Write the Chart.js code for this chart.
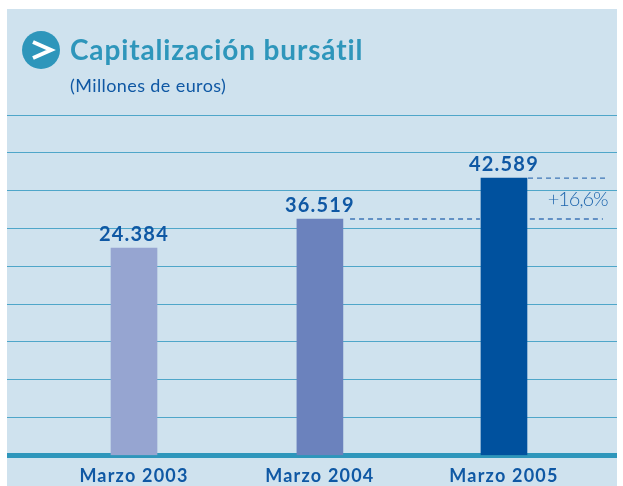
<!DOCTYPE html>
<html><head><meta charset="utf-8">
<style>
html,body{margin:0;padding:0;background:#fff;width:623px;height:486px;overflow:hidden}
#panel{position:absolute;left:7px;top:9px;width:610px;height:477px;background:#cfe2ee}
#wrap{position:absolute;left:0;top:0;width:623px;height:498px;clip-path:inset(0 6px 0 7px)}
#badge{position:absolute;left:22px;top:31px;width:38px;height:38px;border-radius:50%;background:#2e96bb;color:#fff}
#badge svg{position:absolute;left:0;top:0}
#title{position:absolute;left:70px;top:32px;font:bold 28px Lato,sans-serif;color:#2e96bb;letter-spacing:.85px;white-space:nowrap}
#sub{position:absolute;left:70px;top:74px;font:18px Lato,sans-serif;color:#0f58a4;letter-spacing:.4px;white-space:nowrap}
</style>
<script src="https://cdn.jsdelivr.net/npm/chart.js@4"></script>
</head><body>
<div id="panel"></div>
<div id="wrap"><canvas id="c" width="623" height="498"></canvas></div>
<div id="badge"><svg width="38" height="38"><path d="M11 11 L29 19 L11 27" fill="none" stroke="#fff" stroke-width="4"/></svg></div>
<div id="title">Capitalización bursátil</div>
<div id="sub">(Millones de euros)</div>
<script>
const categories = ["Marzo 2003", "Marzo 2004", "Marzo 2005"];
const valueLabels = ["24.384", "36.519", "42.589"];
// Bar heights as printed in the source, in gridline steps (source bars are not to scale with their labels)
const barLevels = [5.48, 6.25, 7.33];
const barColors = ["#96a5d1", "#6b82bd", "#00519e"];
const positions = [0, 1.005, 2];
const dashLower = [[1.168, 6.25], [1.87, 6.25]];
const dashLowerRight = [[2.14, 6.25], [2.535, 6.25]];
const dashUpper = [[2.13, 7.33], [2.56, 7.33]];
const changeLabel = "+16,6%";

const textPlugin = {
  id: "texts",
  beforeDraw(chart) { chart.ctx.letterSpacing = "1.2px"; },
  afterDatasetsDraw(chart) {
    const {ctx, scales: {x, y}} = chart;
    ctx.save();
    ctx.textAlign = "center";
    ctx.textBaseline = "alphabetic";
    ctx.fillStyle = "#0f58a4";
    ctx.font = "bold 20px Lato, sans-serif";
    ctx.letterSpacing = "1.2px";
    positions.forEach((p, i) => {
      ctx.fillText(valueLabels[i], x.getPixelForValue(p), y.getPixelForValue(barLevels[i]) - 7);
    });
    ctx.font = "300 20px Lato, sans-serif";
    ctx.letterSpacing = "-1.1px";
    ctx.fillStyle = "#1f66ad";
    ctx.textAlign = "right";
    ctx.fillText(changeLabel, x.getPixelForValue(2.56), y.getPixelForValue(6.6));
    ctx.restore();
  }
};

const dashStyle = {type: "line", pointRadius: 0, borderWidth: 1.4, borderColor: "#3f76b6", borderDash: [5, 4], fill: false, parsing: false};
const toPts = a => a.map(([x, y]) => ({x, y}));

new Chart(document.getElementById("c"), {
  type: "bar",
  data: {
    datasets: [
      {type: "bar", data: positions.map((p, i) => ({x: p, y: barLevels[i]})), backgroundColor: barColors, barThickness: 46, order: 2},
      {...dashStyle, data: toPts(dashLower), order: 1},
      {...dashStyle, data: toPts(dashLowerRight), order: 1},
      {...dashStyle, data: toPts(dashUpper), order: 1}
    ]
  },
  options: {
    responsive: false,
    animation: false,
    layout: {padding: {left: 7, right: 6, top: 115, bottom: 1}},
    plugins: {legend: {display: false}, tooltip: {enabled: false}, title: {display: false}},
    scales: {
      x: {
        type: "linear",
        offset: false,
        min: -0.6865,
        max: 2.611,
        afterBuildTicks(ax) { ax.ticks = positions.map(v => ({value: v})); },
        ticks: {
          autoSkip: false, maxRotation: 0, padding: 10,
          color: "#0f58a4",
          font: {family: "Lato, sans-serif", weight: "bold", size: 18},
          callback: v => categories[positions.indexOf(v)]
        },
        grid: {display: false, drawTicks: false, offset: false},
        border: {display: true, color: "#2e96bb", width: 5}
      },
      y: {
        min: 0,
        max: 9,
        ticks: {stepSize: 1, display: false},
        grid: {color: "#4fa6c9", lineWidth: 1, drawTicks: false},
        border: {display: false}
      }
    }
  },
  plugins: [textPlugin]
});
</script>
</body></html>
